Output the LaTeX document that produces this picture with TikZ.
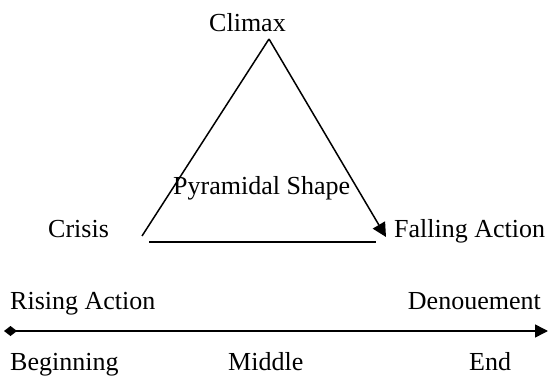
\documentclass[tikz,border=0pt]{standalone}
\usepackage{fontspec}
\setmainfont{Liberation Serif}
\usetikzlibrary{arrows.meta}
\begin{document}
\begin{tikzpicture}[x=1pt,y=-1pt,
  lbl/.style={inner sep=0pt,font=\fontsize{26}{29}\selectfont},
  ln/.style={line width=1.5pt}]
\useasboundingbox (0,0) rectangle (549,377);
\coordinate (apex) at (269,39);
\coordinate (left) at (142,236);
\coordinate (right) at (386,237);
\coordinate (b1) at (149,242);
\coordinate (b2) at (376,242);
\coordinate (a1) at (4,331);
\coordinate (a2) at (548,331);
\draw[ln] (left) -- (apex);
\draw[ln,-{Triangle[width=14pt,length=14pt]}] (apex) -- (right);
\draw[ln] (b1) -- (b2);
\draw[ln,{Diamond[width=10pt,length=13pt]}-{Triangle[width=13pt,length=13pt]}] (a1) -- (a2);
\node[lbl,anchor=base west] (climax) at (209,32) {Climax};
\node[lbl,anchor=base west] (pyr) at (173,194) {Pyramidal Shape};
\node[lbl,anchor=base west] (crisis) at (48,237) {Crisis};
\node[lbl,anchor=base west] (fall) at (394,237) {Falling Action};
\node[lbl,anchor=base west] (rise) at (10,309) {Rising Action};
\node[lbl,anchor=base east] (den) at (541,309) {Denouement};
\node[lbl,anchor=base west] (beg) at (10,370) {Beginning};
\node[lbl,anchor=base west] (mid) at (228,370) {Middle};
\node[lbl,anchor=base west] (end) at (469,370) {End};
\end{tikzpicture}
\end{document}
